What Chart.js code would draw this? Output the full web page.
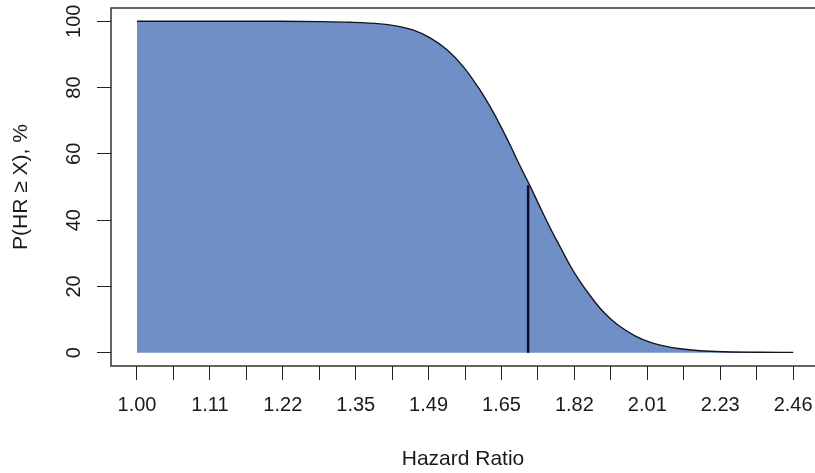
<!DOCTYPE html>
<html><head><meta charset="utf-8">
<script src="https://cdn.jsdelivr.net/npm/chart.js@4/dist/chart.umd.min.js"></script>
<style>html,body{margin:0;padding:0;background:#fff;overflow:hidden;width:815px;height:473px}canvas{display:block}</style>
</head><body>
<canvas id="c" width="815" height="473"></canvas>
<script>
const hazardRatio = [1.000,1.136,1.217,1.285,1.339,1.396,1.434,1.460,1.495,1.530,1.564,1.601,1.630,1.652,1.670,1.691,1.715,1.738,1.762,1.787,1.811,1.836,1.862,1.887,1.913,1.940,1.980,2.021,2.063,2.106,2.165,2.240,2.351,2.460];
const probPercent = [100,100,100,99.9,99.7,99.2,98.4,97.4,95.0,91.4,86.4,79.2,72.6,67.0,62.2,56.4,50.2,44.0,37.8,31.9,26.4,21.5,17.2,13.5,10.4,7.9,5.1,3.2,2.0,1.2,0.6,0.3,0.15,0.1];
const markerHR = [1.71, 1.71];
const markerP = [0, 50.5];
const xTickValues = [1.0000,1.0513,1.1052,1.1618,1.2214,1.2840,1.3499,1.4191,1.4918,1.5683,1.6487,1.7333,1.8221,1.9155,2.0138,2.1170,2.2255,2.3396,2.4596];
const xTickLabels = ['1.00','1.11','1.22','1.35','1.49','1.65','1.82','2.01','2.23','2.46'];
const yTicks = [0,20,40,60,80,100];

const FONT = '"Liberation Sans", Arial, Helvetica, sans-serif';
const TXT = '#1a1a1a';

// R-style plot frame: the right side lies just outside the visible page
const boxPlugin = {
  id: 'box',
  afterDatasetsDraw(chart) {
    const {ctx, chartArea: a} = chart;
    ctx.save();
    ctx.strokeStyle = '#333';
    ctx.lineWidth = 1.5;
    ctx.beginPath();
    ctx.moveTo(chart.width, a.top);
    ctx.lineTo(a.left, a.top);
    ctx.lineTo(a.left, a.bottom);
    ctx.lineTo(chart.width, a.bottom);
    ctx.stroke();
    ctx.restore();
  }
};

new Chart(document.getElementById('c'), {
  type: 'line',
  data: {
    datasets: [
      {
        data: markerHR.map((x, i) => ({x, y: markerP[i]})),
        borderColor: '#0d0d2b', borderWidth: 2.5, pointRadius: 0, fill: false
      },
      {
        data: hazardRatio.map((x, i) => ({x, y: probPercent[i]})),
        borderColor: '#151520', borderWidth: 1.4, pointRadius: 0,
        backgroundColor: '#6f8fc6', fill: 'origin', cubicInterpolationMode: 'monotone'
      }
    ]
  },
  options: {
    responsive: false, animation: false,
    layout: {padding: {top: 8, right: 0, left: 0, bottom: 0}},
    plugins: {legend: {display: false}, tooltip: {enabled: false}},
    scales: {
      x: {
        type: 'logarithmic', min: 0.96497, max: 2.5346,
        afterBuildTicks: s => { s.ticks = xTickValues.map(v => ({value: v})); },
        afterFit: s => { s.height = 107; s.paddingLeft = 0; s.paddingRight = 0; },
        ticks: {
          autoSkip: false, maxRotation: 0, minRotation: 0, padding: 13, color: TXT,
          font: {size: 20, family: FONT},
          callback: (v, i) => (i % 2 === 0 ? xTickLabels[i / 2] : '')
        },
        grid: {drawOnChartArea: false, drawTicks: true, tickLength: 14, color: '#222', lineWidth: 1},
        border: {display: false},
        title: {display: true, text: 'Hazard Ratio', color: TXT, font: {size: 21, family: FONT}, padding: {top: 0, bottom: 1}}
      },
      y: {
        min: -4, max: 104,
        afterBuildTicks: s => { s.ticks = yTicks.map(v => ({value: v})); },
        afterFit: s => { s.width = 111; s.paddingTop = 0; s.paddingBottom = 0; },
        ticks: {
          minRotation: 90, maxRotation: 90, crossAlign: 'center', padding: 6, color: TXT,
          font: {size: 20, family: FONT},
          callback: v => String(v)
        },
        grid: {drawOnChartArea: false, drawTicks: true, tickLength: 14, color: '#222', lineWidth: 1},
        border: {display: false},
        title: {display: true, text: 'P(HR ≥ X), %', color: TXT, font: {size: 21, family: FONT}, padding: {top: 9, bottom: 0}}
      }
    }
  },
  plugins: [boxPlugin]
});
</script>
</body></html>
